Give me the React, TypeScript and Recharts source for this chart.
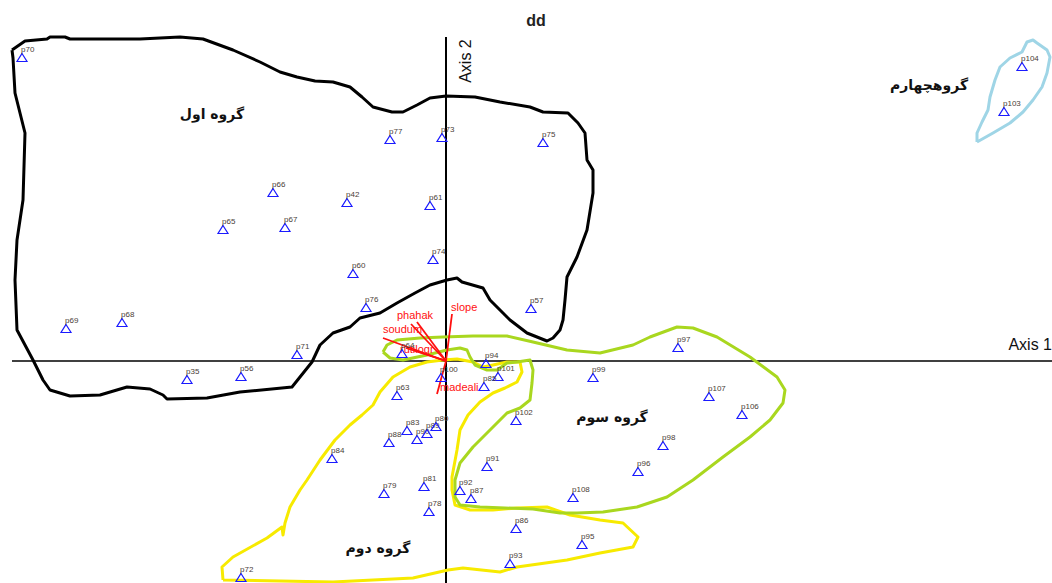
import { ScatterChart, Scatter, XAxis, YAxis, ReferenceLine } from 'recharts';

// site scores (Axis 1, Axis 2)
const sites = [
  { name: 'p70', x: -4.24, y: 3.03 },
  { name: 'p77', x: -0.56, y: 2.21 },
  { name: 'p73', x: -0.04, y: 2.23 },
  { name: 'p75', x: 0.97, y: 2.18 },
  { name: 'p66', x: -1.73, y: 1.68 },
  { name: 'p42', x: -0.99, y: 1.58 },
  { name: 'p61', x: -0.16, y: 1.55 },
  { name: 'p65', x: -2.23, y: 1.31 },
  { name: 'p67', x: -1.61, y: 1.33 },
  { name: 'p74', x: -0.13, y: 1.01 },
  { name: 'p60', x: -0.93, y: 0.87 },
  { name: 'p76', x: -0.8, y: 0.53 },
  { name: 'p57', x: 0.85, y: 0.52 },
  { name: 'p69', x: -3.8, y: 0.32 },
  { name: 'p68', x: -3.24, y: 0.38 },
  { name: 'p71', x: -1.49, y: 0.06 },
  { name: 'p35', x: -2.59, y: -0.19 },
  { name: 'p56', x: -2.05, y: -0.16 },
  { name: 'p64', x: -0.44, y: 0.07 },
  { name: 'p63', x: -0.49, y: -0.35 },
  { name: 'p100', x: -0.05, y: -0.17 },
  { name: 'p94', x: 0.4, y: -0.03 },
  { name: 'p101', x: 0.52, y: -0.16 },
  { name: 'p85', x: 0.38, y: -0.26 },
  { name: 'p83', x: -0.39, y: -0.7 },
  { name: 'p88', x: -0.57, y: -0.82 },
  { name: 'p90', x: -0.29, y: -0.79 },
  { name: 'p89', x: -0.19, y: -0.73 },
  { name: 'p80', x: -0.1, y: -0.66 },
  { name: 'p81', x: -0.22, y: -1.26 },
  { name: 'p79', x: -0.62, y: -1.33 },
  { name: 'p78', x: -0.17, y: -1.51 },
  { name: 'p84', x: -1.14, y: -0.98 },
  { name: 'p72', x: -2.05, y: -2.17 },
  { name: 'p92', x: 0.14, y: -1.3 },
  { name: 'p87', x: 0.25, y: -1.38 },
  { name: 'p91', x: 0.41, y: -1.06 },
  { name: 'p102', x: 0.7, y: -0.6 },
  { name: 'p86', x: 0.7, y: -1.68 },
  { name: 'p93', x: 0.64, y: -2.03 },
  { name: 'p95', x: 1.36, y: -1.84 },
  { name: 'p108', x: 1.27, y: -1.37 },
  { name: 'p96', x: 1.92, y: -1.11 },
  { name: 'p98', x: 2.17, y: -0.85 },
  { name: 'p99', x: 1.47, y: -0.17 },
  { name: 'p97', x: 2.32, y: 0.13 },
  { name: 'p107', x: 2.63, y: -0.36 },
  { name: 'p106', x: 2.96, y: -0.54 },
  { name: 'p104', x: 5.76, y: 2.94 },
  { name: 'p103', x: 5.58, y: 2.49 },
];

// environmental vectors (tips)
const vectors = [
  { name: 'slope', x: 0.06, y: 0.47 },
  { name: 'madeali', x: -0.09, y: -0.33 },
  { name: 'phahak', x: -0.35, y: 0.37 },
  { name: '', x: -0.29, y: 0.39 },
  { name: 'soudum', x: -0.63, y: 0.23 },
  { name: 'rutilogr', x: -0.4, y: 0.13 },
  { name: '', x: -0.33, y: 0.11 },
];

// hand-drawn group outlines
const group1 = [
  [-4.34, 3.11], [-4.21, 3.2], [-3.99, 3.22], [-3.96, 3.24], [-3.81, 3.24], [-3.76, 3.22], [-3.06, 3.22],
  [-2.66, 3.24], [-2.43, 3.22], [-2.13, 3.11], [-1.86, 2.99], [-1.66, 2.89], [-1.49, 2.84], [-1.31, 2.8],
  [-1.13, 2.79], [-0.96, 2.74], [-0.84, 2.64], [-0.73, 2.54], [-0.54, 2.49], [-0.43, 2.49], [-0.29, 2.56],
  [-0.16, 2.63], [0.0, 2.65], [0.29, 2.64], [0.54, 2.59], [0.84, 2.54], [0.97, 2.49], [1.22, 2.48],
  [1.32, 2.38], [1.39, 2.28], [1.41, 2.01], [1.47, 1.91], [1.47, 1.68], [1.41, 1.31], [1.31, 1.04],
  [1.21, 0.84], [1.19, 0.61], [1.17, 0.41], [1.14, 0.31], [1.07, 0.23], [1.01, 0.2], [0.81, 0.28],
  [0.64, 0.41], [0.54, 0.51], [0.44, 0.61], [0.37, 0.73], [0.16, 0.79], [0.11, 0.83], [0.01, 0.81],
  [-0.16, 0.76], [-0.31, 0.68], [-0.49, 0.58], [-0.66, 0.48], [-0.86, 0.43], [-0.96, 0.34], [-1.13, 0.28],
  [-1.26, 0.16], [-1.34, -0.01], [-1.46, -0.16], [-1.54, -0.26], [-2.06, -0.31], [-2.39, -0.37],
  [-2.79, -0.38], [-2.83, -0.34], [-2.96, -0.28], [-3.19, -0.26], [-3.46, -0.34], [-3.76, -0.35],
  [-3.96, -0.29], [-4.03, -0.19], [-4.13, 0.01], [-4.21, 0.16], [-4.29, 0.31], [-4.31, 0.81],
  [-4.29, 1.21], [-4.23, 1.61], [-4.21, 2.28], [-4.31, 2.68], [-4.33, 3.03], [-4.34, 3.11],
];

const group2 = [
  [-2.23, -2.19], [-2.24, -2.06], [-2.13, -1.96], [-1.79, -1.77], [-1.64, -1.66], [-1.63, -1.74],
  [-1.61, -1.62], [-1.56, -1.46], [-1.46, -1.29], [-1.39, -1.19], [-1.26, -0.99], [-1.11, -0.79],
  [-0.96, -0.64], [-0.84, -0.54], [-0.73, -0.44], [-0.66, -0.31], [-0.53, -0.16], [-0.36, -0.06],
  [-0.19, -0.01], [-0.03, 0.01], [0.11, 0.02], [0.27, -0.01], [0.37, -0.06], [0.47, -0.04], [0.61, -0.01],
  [0.74, -0.01], [0.76, -0.11], [0.71, -0.21], [0.59, -0.27], [0.47, -0.32], [0.34, -0.41], [0.22, -0.54],
  [0.14, -0.69], [0.11, -0.89], [0.06, -1.16], [0.06, -1.29], [0.09, -1.44], [0.24, -1.49], [0.47, -1.49],
  [0.71, -1.47], [1.01, -1.46], [1.24, -1.54], [1.54, -1.59], [1.77, -1.62], [1.92, -1.76], [1.87, -1.86],
  [1.54, -1.92], [1.21, -1.99], [0.71, -2.06], [0.54, -2.11], [0.17, -2.07], [0.02, -2.09], [-0.33, -2.17],
  [-1.13, -2.21], [-2.23, -2.19],
];

const group3 = [
  [-0.63, 0.09], [-0.59, 0.16], [-0.49, 0.21], [-0.26, 0.23], [-0.03, 0.24], [0.27, 0.25], [0.61, 0.25],
  [0.87, 0.19], [1.21, 0.11], [1.54, 0.08], [1.87, 0.16], [2.04, 0.24], [2.31, 0.34], [2.47, 0.33],
  [2.71, 0.24], [3.04, 0.04], [3.31, -0.16], [3.39, -0.29], [3.37, -0.42], [3.24, -0.59], [3.04, -0.76],
  [2.77, -0.96], [2.47, -1.19], [2.21, -1.36], [1.91, -1.46], [1.57, -1.51], [1.31, -1.52], [1.14, -1.52],
  [0.87, -1.48], [0.59, -1.47], [0.34, -1.46], [0.14, -1.44], [0.09, -1.36], [0.09, -1.19], [0.14, -1.02],
  [0.27, -0.86], [0.47, -0.66], [0.61, -0.52], [0.74, -0.47], [0.84, -0.39], [0.86, -0.22], [0.87, -0.09],
  [0.84, 0.01], [0.71, -0.01], [0.61, -0.02], [0.51, -0.09], [0.41, -0.09], [0.29, -0.04], [0.24, 0.04],
  [0.21, 0.11], [0.14, 0.13], [0.01, 0.11], [-0.19, 0.06], [-0.43, 0.01], [-0.56, 0.03], [-0.63, 0.09],
];

const group4 = [
  [5.31, 2.19], [5.31, 2.28], [5.36, 2.39], [5.42, 2.51], [5.44, 2.64], [5.49, 2.81], [5.54, 2.94],
  [5.64, 3.03], [5.76, 3.09], [5.81, 3.19], [5.87, 3.21], [5.91, 3.18], [6.01, 3.11], [6.04, 3.04],
  [6.01, 2.88], [5.96, 2.74], [5.87, 2.61], [5.77, 2.49], [5.64, 2.38], [5.47, 2.28], [5.31, 2.19],
];

const groupNames = [
  { name: 'گروه اول', x: -2.34, y: 2.47 },
  { name: 'گروه دوم', x: -0.68, y: -1.87 },
  { name: 'گروه سوم', x: 1.66, y: -0.56 },
  { name: 'گروهچهارم', x: 4.83, y: 2.76 },
];

const outlines = [
  { data: group1, color: '#000000' },
  { data: group2, color: '#f7ea00' },
  { data: group3, color: '#a9d71f' },
  { data: group4, color: '#9fd5e6' },
];

const VEC_LABEL_OFFSET: Record<string, [number, number]> = {
  slope: [-1, -3],
  madeali: [3, -3],
  phahak: [-14, -5],
  soudum: [0, -5],
  rutilogr: [-6, 5],
};

const toPts = (arr: number[][]) => arr.map(([x, y]) => ({ x, y }));
const noDot = () => <g />;

const sitePoint = (props: any) => {
  const { cx, cy, payload } = props;
  return (
    <g>
      <path
        d={`M${cx},${cy - 4.5}L${cx + 5},${cy + 3.5}L${cx - 5},${cy + 3.5}Z`}
        fill="none"
        stroke="#1a1aff"
        strokeWidth={1.2}
      />
      <text x={cx - 1} y={cy - 6.5} fontSize={8} fill="#4a4038" fontFamily="Liberation Sans, Arial">
        {payload.name}
      </text>
    </g>
  );
};

const vectorTip = (props: any) => {
  const { cx, cy, payload } = props;
  if (!payload.name) return <g />;
  const [dx, dy] = VEC_LABEL_OFFSET[payload.name] || [0, 0];
  return (
    <text x={cx + dx} y={cy + dy} fontSize={11} fill="#ff1010" fontFamily="Liberation Sans, Arial">
      {payload.name}
    </text>
  );
};

const groupLabel = (props: any) => {
  const { cx, cy, payload } = props;
  return (
    <text
      x={cx}
      y={cy}
      textAnchor="middle"
      dominantBaseline="central"
      fontSize={14}
      fontWeight="bold"
      fill="#111"
      fontFamily="DejaVu Sans"
    >
      {payload.name}
    </text>
  );
};

export default function App() {
  return (
    <div style={{ position: 'absolute', left: 0, top: 0, width: 1052, height: 583, background: '#fff' }}>
      <ScatterChart width={1052} height={583} margin={{ top: 0, right: 0, bottom: 0, left: 0 }}>
        <XAxis type="number" dataKey="x" domain={[-4.46, 6.06]} allowDataOverflow hide />
        <YAxis type="number" dataKey="y" domain={[-2.22, 3.61]} allowDataOverflow hide />
        {outlines.map((g, i) => (
          <Scatter
            key={`outline-${i}`}
            data={toPts(g.data)}
            line={{ stroke: g.color, strokeWidth: 3, strokeLinejoin: 'round' }}
            lineType="joint"
            shape={noDot}
            isAnimationActive={false}
          />
        ))}
        <ReferenceLine
          segment={[{ x: 0, y: 3.24 }, { x: 0, y: -2.22 }]}
          stroke="#000"
          strokeWidth={2}
        />
        <ReferenceLine
          segment={[{ x: -4.34, y: 0 }, { x: 6.06, y: 0 }]}
          stroke="#000"
          strokeWidth={1.5}
        />
        {vectors.map((v, i) => (
          <Scatter
            key={`vec-${i}`}
            data={[{ x: 0, y: 0, name: '' }, v]}
            line={{ stroke: '#ff1010', strokeWidth: 1.8 }}
            lineType="joint"
            shape={vectorTip}
            isAnimationActive={false}
          />
        ))}
        <Scatter data={sites} shape={sitePoint} isAnimationActive={false} />
        <Scatter data={groupNames} shape={groupLabel} isAnimationActive={false} />
        <text x={536} y={26} textAnchor="middle" fontSize={16} fontWeight="bold" fill="#222" fontFamily="Liberation Sans, Arial">
          dd
        </text>
        <text x={1052} y={350} textAnchor="end" fontSize={16} fill="#111" fontFamily="Liberation Sans, Arial">
          Axis 1
        </text>
        <text
          x={471}
          y={61}
          textAnchor="middle"
          fontSize={16}
          fill="#111"
          fontFamily="Liberation Sans, Arial"
          transform="rotate(-90 471 61)"
        >
          Axis 2
        </text>
      </ScatterChart>
    </div>
  );
}
